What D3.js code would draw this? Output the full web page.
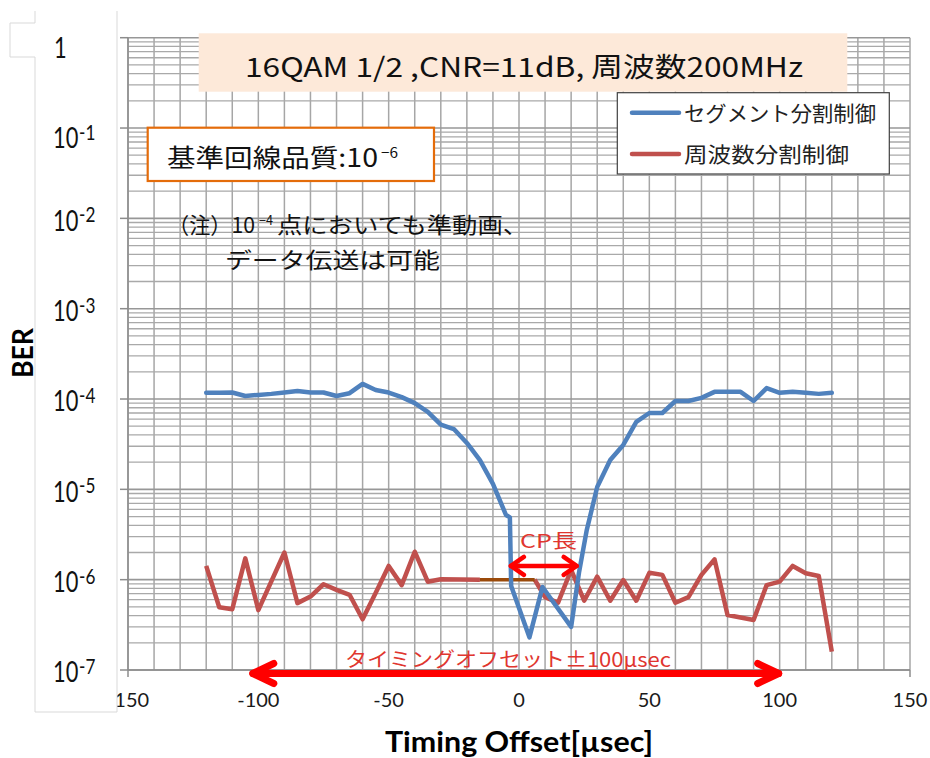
<!DOCTYPE html>
<html><head><meta charset="utf-8">
<script src="https://cdn.jsdelivr.net/npm/d3@7/dist/d3.min.js"></script>
<style>body{margin:0;background:#fff}svg{display:block}</style>
</head><body>
<svg id="c" width="930" height="758"></svg>
<script>
// ---------- data ----------
const segX = [-120,-115,-110,-105,-100,-95,-90,-85,-80,-75,-70,-65,-60,-55,-50,-45,-40,-35,-30,-25,-20,-15,-10,-5,-3.5,-3,4,9,20,23,26,30,35,40,45,50,55,60,65,70,75,80,85,90,95,100,105,110,115,120];
const segBER = [1.17e-4,1.17e-4,1.18e-4,1.08e-4,1.11e-4,1.14e-4,1.18e-4,1.23e-4,1.18e-4,1.18e-4,1.08e-4,1.16e-4,1.47e-4,1.26e-4,1.18e-4,1.05e-4,9.0e-5,7.2e-5,5.2e-5,4.65e-5,3.26e-5,2.11e-5,1.15e-5,5.2e-6,4.9e-6,8.5e-7,2.3e-7,8.3e-7,3.0e-7,1.19e-6,3.55e-6,1.06e-5,2.11e-5,3.1e-5,5.57e-5,7.0e-5,7.0e-5,9.5e-5,9.5e-5,1.03e-4,1.2e-4,1.2e-4,1.2e-4,9.5e-5,1.32e-4,1.17e-4,1.2e-4,1.17e-4,1.14e-4,1.17e-4];
const freqX = [-120,-115,-110,-105,-100,-90,-85,-80,-75,-70,-65,-60,-55,-50,-45,-40,-35,-30,-15,0,6,10,15,20,25,30,35,40,45,50,55,60,65,70,75,80,90,95,100,105,110,115,120];
const freqBER = [1.42e-6,4.95e-7,4.7e-7,1.72e-6,4.6e-7,2.0e-6,5.5e-7,6.5e-7,8.9e-7,7.7e-7,6.8e-7,3.64e-7,7.1e-7,1.42e-6,8.7e-7,2.04e-6,9.5e-7,1.01e-6,1.0e-6,null,1.0e-6,6.4e-7,5.56e-7,1.28e-6,5.85e-7,1.08e-6,5.85e-7,9.9e-7,5.85e-7,1.19e-6,1.13e-6,5.56e-7,6.4e-7,1.13e-6,1.68e-6,4.06e-7,3.58e-7,8.7e-7,9.5e-7,1.42e-6,1.18e-6,1.10e-6,1.6e-7];
const seriesNames = ["セグメント分割制御","周波数分割制御"];
const xTicks = [-150,-100,-50,0,50,100,150];
const yExps = [0,-1,-2,-3,-4,-5,-6,-7];
const cpRange = [-3.5, 22.5];      // CP長 arrow (µs)
const cpLevel = 1.42e-6;
const offsetRange = [-102.5, 100]; // タイミングオフセット±100µsec arrow
const titleText = "16QAM 1/2 ,CNR=11dB, 周波数200MHz";
const refText = "基準回線品質:10";
const noteLine1a = "（注）10";
const noteLine1b = "点においても準動画、";
const noteLine2 = "データ伝送は可能";
const xTitle = "Timing Offset[µsec]";
const yTitle = "BER";

// ---------- setup ----------
const svg = d3.select("#c");
const L = 128, R = 910, T = 37.7, B = 670;
const x = d3.scaleLinear().domain([-150,150]).range([L,R]);
const y = d3.scaleLog().domain([1e-7,1]).range([B,T]);
const CJK = "'Noto Sans CJK JP','Noto Sans',sans-serif";
const LAT = "Lato,'Open Sans',sans-serif";
const BLUE = "#4f81bd", RED = "#c0504d";

// grid
const g = svg.append("g");
d3.range(-150,151,10).forEach(v=>{
  g.append("line").attr("x1",x(v)).attr("x2",x(v)).attr("y1",T).attr("y2",B)
   .attr("stroke","#a6a6a6").attr("stroke-width",1.5);
});
yExps.forEach(e=>{
  if (e>-7) d3.range(2,10).forEach(m=>{
    const v = m*Math.pow(10,e-1);
    g.append("line").attr("x1",L).attr("x2",R).attr("y1",y(v)).attr("y2",y(v))
     .attr("stroke","#a9a9a9").attr("stroke-width",1.3);
  });
  const v = Math.pow(10,e);
  g.append("line").attr("x1",L).attr("x2",R).attr("y1",y(v)).attr("y2",y(v))
   .attr("stroke","#979797").attr("stroke-width",1.6);
});
// axes lines and ticks
g.append("line").attr("x1",L).attr("x2",L).attr("y1",T).attr("y2",B).attr("stroke","#8c8c8c").attr("stroke-width",1.5);
g.append("line").attr("x1",L).attr("x2",R).attr("y1",B).attr("y2",B).attr("stroke","#8c8c8c").attr("stroke-width",1.5);
yExps.forEach(e=>{
  g.append("line").attr("x1",L-8).attr("x2",L).attr("y1",y(Math.pow(10,e))).attr("y2",y(Math.pow(10,e))).attr("stroke","#8c8c8c").attr("stroke-width",1.5);
});
xTicks.forEach(v=>{
  g.append("line").attr("x1",x(v)).attr("x2",x(v)).attr("y1",B).attr("y2",B+7).attr("stroke","#8c8c8c").attr("stroke-width",1.5);
});

// x tick labels
xTicks.forEach(v=>{
  svg.append("text").attr("x",x(v)).attr("y",707).attr("text-anchor","middle")
    .attr("font-family",LAT).attr("font-size",20).attr("fill","#1a1a1a").text(v);
});

// left white panel (covers minus of -150)
svg.append("path").attr("d","M35,11V23H10V57H35V712H117V11Z").attr("fill","#fff").attr("stroke","none");
svg.append("path").attr("d","M35,11V23H10V57H35V712H117V11").attr("fill","none").attr("stroke","#d9d9d9").attr("stroke-width",1);

// y labels (one text element each, exponent as tspan)
yExps.forEach(e=>{
  const cy = y(Math.pow(10,e)) + (e>=-1 ? 10 : 2);
  const t = svg.append("text").attr("transform",`translate(${e===0?54:53},${cy+10.3}) scale(0.78,1)`)
    .attr("font-family",LAT).attr("fill","#111");
  if (e===0) {
    t.append("tspan").attr("font-size",28).text("1");
  } else {
    t.append("tspan").attr("font-size",28).text("10");
    t.append("tspan").attr("font-size",22).attr("dy",-8.3).attr("dx",1).text(String(e));
  }
});

// axis titles
svg.append("text").attr("transform","translate(33,353) rotate(-90)").attr("text-anchor","middle")
  .attr("font-family",LAT).attr("font-weight","bold").attr("font-size",29)
  .attr("textLength",50).attr("lengthAdjust","spacingAndGlyphs").attr("fill","#000").text(yTitle);
svg.append("text").attr("x",385).attr("y",752).attr("font-family",LAT).attr("font-weight","bold").attr("font-size",28)
  .attr("textLength",268).attr("lengthAdjust","spacingAndGlyphs").attr("fill","#000").text(xTitle);

// ---------- series ----------
const segData = segX.map((v,i)=>({x:v,y:segBER[i]}));
const freqData = freqX.map((v,i)=>({x:v,y:freqBER[i]}));
const line = d3.line().defined(d=>d.y!=null).x(d=>x(d.x)).y(d=>y(d.y));

// brown connector across the gap of the frequency series
const gi = freqData.findIndex(d=>d.y==null);
const gapSeg = [freqData[gi-1], freqData[gi+1]];

svg.append("path").datum(freqData).attr("d",line).attr("fill","none").attr("stroke",RED)
  .attr("stroke-width",4.5).attr("stroke-linejoin","round").attr("stroke-linecap","butt");
svg.append("path").datum(gapSeg).attr("d",line).attr("fill","none").attr("stroke","#9a4a0a")
  .attr("stroke-width",3.5);
svg.append("path").datum(segData).attr("d",line).attr("fill","none").attr("stroke",BLUE)
  .attr("stroke-width",4.5).attr("stroke-linejoin","round").attr("stroke-linecap","round");

// ---------- annotations ----------
function dblArrow(x1,x2,yy,w,arm,spread,color){
  const a = svg.append("g").attr("fill","none").attr("stroke",color).attr("stroke-width",w)
    .attr("stroke-linecap","round").attr("stroke-linejoin","round");
  a.append("line").attr("x1",x1+1).attr("x2",x2-1).attr("y1",yy).attr("y2",yy);
  a.append("path").attr("d",`M${x1+arm},${yy-spread}L${x1+1},${yy}L${x1+arm},${yy+spread}`);
  a.append("path").attr("d",`M${x2-arm},${yy-spread}L${x2-1},${yy}L${x2-arm},${yy+spread}`);
}
dblArrow(x(cpRange[0]), x(cpRange[1]), y(cpLevel), 4.5, 14, 9, "#ff0000");
svg.append("text").attr("x",520).attr("y",548).attr("font-family",CJK).attr("font-size",19)
  .attr("textLength",57).attr("lengthAdjust","spacingAndGlyphs").attr("fill","#e0362f").text("CP長");

dblArrow(x(offsetRange[0]), x(offsetRange[1]), B+3.5, 7, 22, 10, "#ff0000");
svg.append("text").attr("x",345).attr("y",667).attr("font-family",CJK).attr("font-size",20)
  .attr("textLength",326).attr("lengthAdjust","spacingAndGlyphs").attr("fill","#e0362f").text("タイミングオフセット±100μsec");

// title box
svg.append("rect").attr("x",198.7).attr("y",33.3).attr("width",648.6).attr("height",58.4).attr("fill","#fde9d9");
svg.append("text").attr("x",245).attr("y",77).attr("font-family",CJK).attr("font-size",27)
  .attr("textLength",558).attr("lengthAdjust","spacingAndGlyphs").attr("fill","#111").text(titleText);

// legend
svg.append("rect").attr("x",617.3).attr("y",92.7).attr("width",272).attr("height",81.3)
  .attr("fill","#fff").attr("stroke","#404040").attr("stroke-width",1.2);
[[BLUE,112.7,192],[RED,154,165]].forEach(([c,yy,tl],i)=>{
  svg.append("line").attr("x1",632).attr("x2",679).attr("y1",yy).attr("y2",yy)
    .attr("stroke",c).attr("stroke-width",4.5).attr("stroke-linecap","round");
  svg.append("text").attr("x",684).attr("y",yy+8).attr("font-family",CJK).attr("font-size",21)
    .attr("textLength",tl).attr("lengthAdjust","spacingAndGlyphs").attr("fill","#222").text(seriesNames[i]);
});

// reference quality box
svg.append("rect").attr("x",147.7).attr("y",127.7).attr("width",286.3).attr("height",53.3)
  .attr("fill","#fff").attr("stroke","#e46c0a").attr("stroke-width",2.2);
svg.append("text").attr("x",167).attr("y",167).attr("font-family",CJK).attr("font-size",25)
  .attr("textLength",211).attr("lengthAdjust","spacingAndGlyphs").attr("fill","#111").text(refText);
svg.append("text").attr("x",381).attr("y",158).attr("font-family",CJK).attr("font-size",14)
  .attr("textLength",17).attr("lengthAdjust","spacingAndGlyphs").attr("fill","#111").text("−6");

// note
svg.append("text").attr("x",168).attr("y",233).attr("font-family",CJK).attr("font-size",22)
  .attr("textLength",87).attr("lengthAdjust","spacingAndGlyphs").attr("fill","#111").text(noteLine1a);
svg.append("text").attr("x",259).attr("y",225).attr("font-family",CJK).attr("font-size",13)
  .attr("textLength",14).attr("lengthAdjust","spacingAndGlyphs").attr("fill","#111").text("−4");
svg.append("text").attr("x",277).attr("y",233).attr("font-family",CJK).attr("font-size",22)
  .attr("textLength",251).attr("lengthAdjust","spacingAndGlyphs").attr("fill","#111").text(noteLine1b);
svg.append("text").attr("x",225).attr("y",268).attr("font-family",CJK).attr("font-size",22)
  .attr("textLength",215).attr("lengthAdjust","spacingAndGlyphs").attr("fill","#111").text(noteLine2);
</script>
</body></html>
